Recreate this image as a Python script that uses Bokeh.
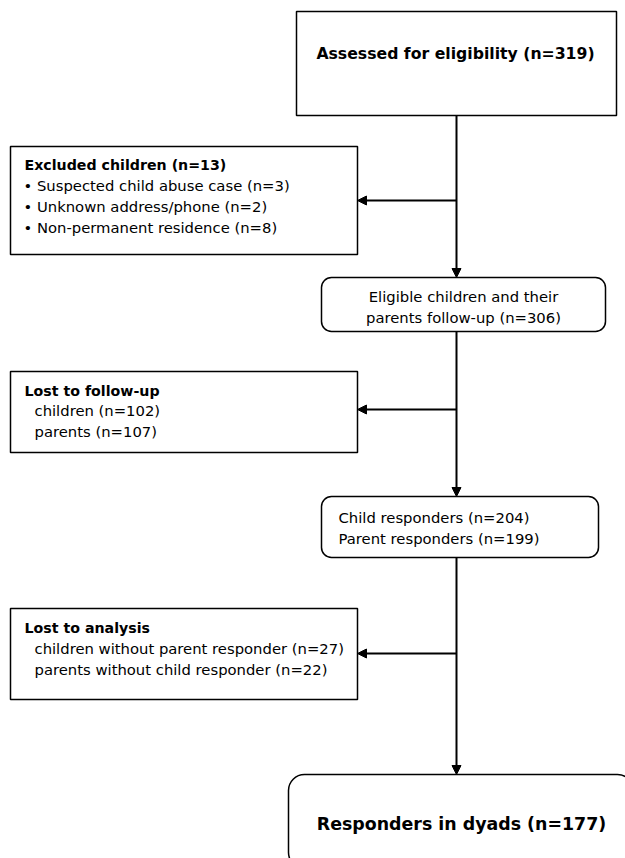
from bokeh.plotting import figure
from bokeh.models import Range1d, Arrow, NormalHead, ColumnDataSource
from bokeh.core.properties import value
from bokeh.embed import file_html
from bokeh.resources import INLINE

# ---- data (counts and labels) ----
assessed_n = 319
excluded_n = 13
excluded_reasons = ["Suspected child abuse case", "Unknown address/phone", "Non-permanent residence"]
excluded_counts = [3, 2, 8]
eligible_n = 306
lost_fu_groups = ["children", "parents"]
lost_fu_counts = [102, 107]
responder_groups = ["Child responders", "Parent responders"]
responder_counts = [204, 199]
lost_an_groups = ["children without parent responder", "parents without child responder"]
lost_an_counts = [27, 22]
dyads_n = 177

FONT = "DejaVu Sans"
W, H = 625, 858

p = figure(width=W, height=H, output_backend="svg", toolbar_location=None,
           x_range=Range1d(0, W), y_range=Range1d(H, 0), min_border=0)
p.axis.visible = False
p.grid.visible = False
p.outline_line_color = None
p.background_fill_color = "white"

# ---- layout (pixel positions in page coordinates) ----
sq_boxes = dict(left=[296, 10, 10, 10], right=[616, 357, 357, 357],
                top=[11, 146, 371, 608], bottom=[115, 254, 452, 699])
rd_boxes = dict(left=[321, 321], right=[605, 598], top=[277, 496], bottom=[331, 557])
p.quad(source=ColumnDataSource(sq_boxes), left="left", right="right", top="top", bottom="bottom",
       fill_color="white", line_color="black", line_width=1.5)
p.quad(source=ColumnDataSource(rd_boxes), left="left", right="right", top="top", bottom="bottom",
       fill_color="white", line_color="black", line_width=1.5, border_radius=10)
p.quad(left=[288], right=[633], top=[774], bottom=[868],
       fill_color="white", line_color="black", line_width=1.5, border_radius=16)

X = 456
head = dict(size=9, fill_color="black", line_color="black")
for y0, y1 in [(115, 277), (331, 496), (557, 774)]:
    p.add_layout(Arrow(end=NormalHead(**head), x_start=X, y_start=y0, x_end=X, y_end=y1,
                       line_color="black", line_width=2))
for y in [200, 409, 653]:
    p.add_layout(Arrow(end=NormalHead(**head), x_start=X, y_start=y, x_end=357, y_end=y,
                       line_color="black", line_width=2))

def txt(x, y, s, size, bold=False, align="left"):
    p.text(x=[x], y=[y], text=[s], text_font=value(FONT), text_font_size=f"{size}px",
           text_font_style="bold" if bold else "normal", text_align=align,
           text_baseline="middle", text_color="black")

REG = 14.8
txt(455, 53, f"Assessed for eligibility (n={assessed_n})", 15.7, True, "center")
txt(24, 164, f"Excluded children (n={excluded_n})", 14.2, True)
for i, (r, c) in enumerate(zip(excluded_reasons, excluded_counts)):
    txt(23, 185 + 21 * i, f"\u2022 {r} (n={c})", REG)
txt(463, 296, "Eligible children and their", REG, False, "center")
txt(463, 317, f"parents follow-up (n={eligible_n})", REG, False, "center")
txt(24, 390, "Lost to follow-up", 14.2, True)
for i, (g, c) in enumerate(zip(lost_fu_groups, lost_fu_counts)):
    txt(34, 410 + 21 * i, f"{g} (n={c})", REG)
for i, (g, c) in enumerate(zip(responder_groups, responder_counts)):
    txt(338, 517 + 21 * i, f"{g} (n={c})", REG)
txt(24, 627, "Lost to analysis", 14.2, True)
for i, (g, c) in enumerate(zip(lost_an_groups, lost_an_counts)):
    txt(34, 648 + 21 * i, f"{g} (n={c})", REG)
txt(461, 823, f"Responders in dyads (n={dyads_n})", 17.4, True, "center")

open("out.html", "w").write(file_html(p, INLINE))
